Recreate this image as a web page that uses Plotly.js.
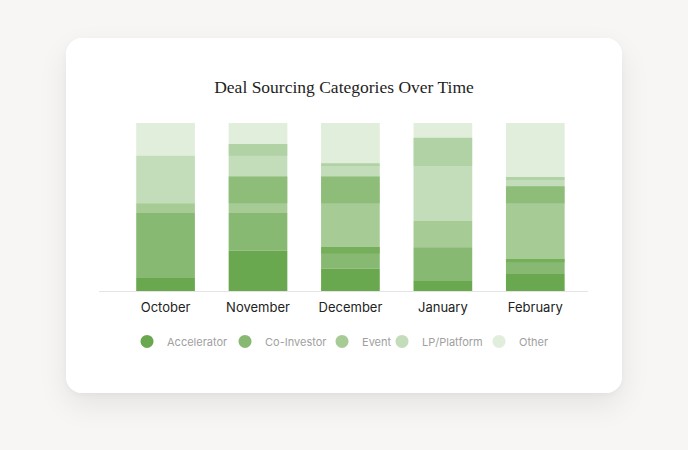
<!DOCTYPE html>
<html>
<head>
<meta charset="utf-8">
<script src="https://cdn.plot.ly/plotly-3.0.1.min.js"></script>
<style>
  html, body { margin: 0; padding: 0; width: 688px; height: 450px; background: #f7f6f4; overflow: hidden; }
  #card { position: absolute; left: 66px; top: 38px; width: 556px; height: 355px; background: #ffffff;
          border-radius: 16px; box-shadow: 0 12px 30px rgba(0,0,0,0.08), 0 2px 6px rgba(0,0,0,0.03); overflow: hidden; }
  #chart { width: 556px; height: 355px; }
</style>
</head>
<body>
<div id="card"><div id="chart"></div></div>
<script>
// Categories (x axis)
const months = ['October', 'November', 'December', 'January', 'February'];

// Series names
const seriesNames = ['Accelerator', 'Co-Investor', 'Event', 'LP/Platform', 'Other'];

// Segment start / end (share of bar, %) per series
const acceleratorStart = [0, 0, 0, 0, 0];
const acceleratorEnd   = [8.2, 24.1, 13.4, 6.4, 10.1];

const coInvestorStart  = [8.2, 24.1, 13.4, 6.4, 10.1];
const coInvestorEnd    = [46.5, 46.5, 26.2, 26.1, 19.1];

const eventStart       = [46.5, 46.5, 22.3, 26.1, 17.1];
const eventEnd         = [52.3, 68.2, 68.2, 41.6, 62.3];

const lpPlatformStart  = [52.3, 52.3, 52.3, 41.6, 52.3];
const lpPlatformEnd    = [80.5, 87.5, 76.1, 91.2, 67.8];

const otherStart       = [80.5, 80.5, 74.4, 74.4, 66.0];
const otherEnd         = [100, 100, 100, 100, 100];

const starts = [acceleratorStart, coInvestorStart, eventStart, lpPlatformStart, otherStart];
const ends   = [acceleratorEnd, coInvestorEnd, eventEnd, lpPlatformEnd, otherEnd];
const alphas = [1, 0.8, 0.6, 0.4, 0.2];
const legendWidths = [53, 52, 15, 52, 30];
const base = '106,168,79';

const traces = [];
seriesNames.forEach((name, i) => {
  const color = 'rgba(' + base + ',' + alphas[i] + ')';
  traces.push({
    type: 'bar',
    name: name,
    x: months,
    base: starts[i],
    y: ends[i].map((e, k) => e - starts[i][k]),
    width: 0.635,
    marker: { color: color, line: { width: 0 } },
    showlegend: false,
    hoverinfo: 'skip'
  });
});
// legend entries with round markers
seriesNames.forEach((name, i) => {
  traces.push({
    type: 'scatter',
    mode: 'markers',
    name: name,
    x: [null], y: [null],
    marker: { symbol: 'circle', size: 13, color: 'rgba(' + base + ',' + alphas[i] + ')' },
    showlegend: true,
    legendwidth: legendWidths[i],
    hoverinfo: 'skip'
  });
});

const layout = {
  width: 556,
  height: 355,
  paper_bgcolor: '#ffffff',
  plot_bgcolor: '#ffffff',
  barmode: 'overlay',
  margin: { l: 33, r: 34, t: 85, b: 102 },
  title: {
    text: 'Deal Sourcing Categories Over Time',
    font: { family: '"Liberation Serif", "DejaVu Serif", serif', size: 17.5, color: '#1e1e1e' },
    x: 0.5, xanchor: 'center', xref: 'container',
    y: 1 - 49 / 355, yanchor: 'middle', yref: 'container'
  },
  xaxis: {
    type: 'category',
    range: [-0.72, 4.57],
    showgrid: false,
    zeroline: false,
    showline: true,
    linecolor: '#e4e4e4',
    linewidth: 1,
    ticks: '',
    tickfont: { family: 'Inter, "Noto Sans", sans-serif', size: 13, color: '#222222' },
    ticklabelstandoff: 4,
    fixedrange: true
  },
  yaxis: {
    range: [0, 100],
    visible: false,
    showgrid: false,
    zeroline: false,
    fixedrange: true
  },
  legend: {
    orientation: 'h',
    x: 0.4939, xanchor: 'center', xref: 'paper',
    y: -0.30, yanchor: 'middle',
    font: { family: 'Inter, "Noto Sans", sans-serif', size: 11, color: '#a0a0a0' },
    itemwidth: 30,
    traceorder: 'normal',
    bgcolor: 'rgba(0,0,0,0)'
  },
  font: { family: 'Inter, sans-serif' }
};

Plotly.newPlot('chart', traces, layout, { displayModeBar: false, staticPlot: true });
</script>
</body>
</html>
